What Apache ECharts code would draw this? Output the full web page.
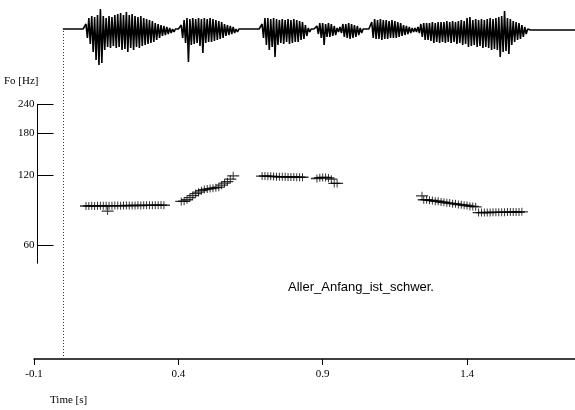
<!DOCTYPE html>
<html>
<head>
<meta charset="utf-8">
<script src="https://cdn.jsdelivr.net/npm/echarts@6/dist/echarts.min.js"></script>
<style>
  html, body { margin: 0; padding: 0; background: #fff; }
  #main { width: 575px; height: 410px; }
</style>
</head>
<body>
<div id="main"></div>
<script>
// time axis
var timeMin = -0.1;
var timeMax = 1.774;
var timeTicks = [-0.1, 0.4, 0.9, 1.4];

// F0 axis (log)
var hzMin = 50.3;
var hzMax = 240;
var hzTicks = [60, 120, 180, 240];

// F0 frames, 10 ms apart, per voiced stretch
var f0Step = 0.01;
var f0Starts = [0.08, 0.41, 0.69, 0.88, 1.25, 1.44];
var f0Seg1 = [88.4, 88.4, 88.5, 88.4, 88.5, 88.5, 88.6, 88.5, 88.6, 88.6, 88.7, 88.7, 88.6, 88.7,
              88.8, 88.7, 88.8, 88.8, 88.9, 88.8, 88.9, 88.9, 89.0, 88.9, 89.0, 89.0, 89.1, 89.0];
var f0Seg2 = [92.4, 92.6, 94.0, 95.9, 97.8, 99.8, 101.2, 102.7, 103.8, 104.3, 104.8, 105.3, 105.8,
              106.3, 108.4, 110.6, 112.2, 115.0, 118.8];
var f0Seg3 = [118.5, 118.6, 118.3, 118.2, 118.0, 117.9, 117.8, 117.7, 117.7, 117.6, 117.5, 117.4,
              117.3, 117.2, 117.1];
var f0Seg4 = [115.8, 116.6, 117.0, 117.0, 116.4, 115.0, 110.3, 110.3];
var f0Seg5 = [94.0, 93.9, 93.4, 93.2, 92.6, 92.5, 91.9, 91.7, 91.1, 90.9, 90.4, 90.2, 89.7, 89.5,
              89.0, 88.8, 88.2, 88.0, 87.6];
var f0Seg6 = [82.8, 82.8, 82.9, 82.9, 82.9, 83.0, 83.0, 83.0, 83.1, 83.1, 83.2, 83.2, 83.2, 83.3,
              83.3, 83.4];
var f0Segs = [f0Seg1, f0Seg2, f0Seg3, f0Seg4, f0Seg5, f0Seg6];
// stray frames off the contour
var f0Extra = [[0.155, 84.0], [1.244, 97.6]];

// oscillogram envelope, 10 ms apart from t = 0 (peak above / trough below zero)
var wfStep = 0.01;
var wfUp = [1, 1, 1, 1, 1, 1, 1, 1,
  6, 12, 14, 13, 15, 21, 14, 12, 14, 13, 15, 16, 17, 15, 18, 15, 16, 14, 13, 14, 12, 11, 10, 9, 7, 6, 5, 4, 3, 2, 1,
  1, 1,
  5, 10, 12, 11, 12, 11, 12, 11, 12, 11, 12, 11, 10, 9, 8, 6, 5, 4, 3, 1,
  1, 1, 1, 1, 1, 1, 1, 1,
  6, 12, 12, 11, 12, 11, 10, 11, 10, 11, 10, 11, 10, 9, 8, 5, 2,
  1, 1,
  4, 7, 7, 6, 7, 6, 4, 2,
  3, 6, 6, 7, 6, 5, 4, 2,
  1, 1, 1,
  8, 11, 10, 11, 10, 10, 9, 10, 9, 8, 7, 5, 4, 3, 2, 2,
  3, 6, 7, 7, 7, 8, 7, 8, 8, 8, 9, 8, 9, 8, 9, 10, 9, 12, 13, 10, 11, 10, 11, 10, 11, 12, 11, 12, 13, 14, 19,
  12, 11, 9, 8, 7, 5, 3, 1];
var wfDown = [1, 1, 1, 1, 1, 1, 1, 1,
  8, 14, 22, 30, 35, 33, 20, 17, 18, 16, 18, 17, 20, 19, 22, 18, 20, 17, 18, 16, 15, 14, 13, 12, 10, 8, 6, 5, 4, 3, 2,
  1, 1,
  8, 13, 32, 15, 14, 13, 16, 23, 13, 12, 12, 11, 10, 9, 8, 6, 5, 4, 3, 2,
  1, 1, 1, 1, 1, 1, 1, 1,
  8, 15, 20, 17, 27, 15, 13, 14, 12, 14, 13, 12, 12, 10, 9, 6, 2,
  1, 1,
  4, 8, 15, 7, 7, 6, 5, 2,
  3, 7, 8, 9, 8, 7, 5, 3,
  1, 1, 1,
  8, 9, 9, 10, 9, 9, 8, 8, 8, 7, 6, 5, 4, 3, 2, 2,
  3, 7, 10, 10, 11, 13, 12, 13, 12, 13, 12, 13, 12, 14, 13, 15, 14, 17, 16, 15, 17, 16, 18, 17, 18, 20, 19, 20, 27,
  22, 21, 24, 15, 12, 10, 9, 7, 4, 1];

var sentence = 'Aller_Anfang_ist_schwer.';

// ---- build series data ----
var f0Data = [];
f0Segs.forEach(function (seg, k) {
    seg.forEach(function (hz, i) {
        f0Data.push([+(f0Starts[k] + i * f0Step).toFixed(3), hz]);
    });
});
f0Extra.forEach(function (p) { f0Data.push(p); });

var wfData = [];
var n = Math.min(wfUp.length, wfDown.length);
for (var i = 0; i < n; i++) {
    var t = i * wfStep;
    wfData.push([t, wfUp[i]]);
    wfData.push([t + wfStep / 2, -wfDown[i]]);
}
wfData.push([n * wfStep, 0]);
wfData.push([timeMax, 0]);

var serif = 'Liberation Serif';
var plus = 'path://M0,3.3L12,3.3L12,4.7L0,4.7ZM5.5,0L6.5,0L6.5,8L5.5,8Z';

var myChart = echarts.init(document.getElementById('main'));
myChart.setOption({
    animation: false,
    backgroundColor: '#fff',
    grid: [
        { left: 34, right: 0, top: 30, bottom: 51 },
        { left: 34, right: 0, top: 104.3, height: 159 },
        { left: 34, right: 0, top: 0, height: 60 }
    ],
    xAxis: [
        {
            type: 'value', gridIndex: 0, min: timeMin, max: timeMax,
            splitLine: { show: false },
            axisLine: { lineStyle: { color: '#000', width: 1.5 } },
            axisTick: { customValues: timeTicks, length: 6, lineStyle: { color: '#000' } },
            axisLabel: {
                customValues: timeTicks, margin: 10,
                color: '#000', fontFamily: serif, fontSize: 11
            }
        },
        { type: 'value', gridIndex: 1, min: timeMin, max: timeMax, show: false },
        { type: 'value', gridIndex: 2, min: timeMin, max: timeMax, show: false }
    ],
    yAxis: [
        { type: 'value', gridIndex: 0, min: 0, max: 1, show: false },
        {
            type: 'log', gridIndex: 1, logBase: 2, min: hzMin, max: hzMax, offset: -3.5,
            splitLine: { show: false },
            axisLine: { show: true, onZero: false, lineStyle: { color: '#000', width: 1 } },
            axisTick: { customValues: hzTicks, inside: true, length: 16, lineStyle: { color: '#000' } },
            axisLabel: {
                customValues: hzTicks, margin: 3,
                color: '#000', fontFamily: serif, fontSize: 11
            }
        },
        { type: 'value', gridIndex: 2, min: -30, max: 30, show: false }
    ],
    graphic: [
        { type: 'text', left: 4, top: 76, style: { text: 'Fo [Hz]', fill: '#000', font: '11px "Liberation Serif"' } },
        { type: 'text', left: 50, top: 395, style: { text: 'Time [s]', fill: '#000', font: '11px "Liberation Serif"' } },
        { type: 'text', left: 288, top: 281, style: { text: sentence, fill: '#000', font: '13px "Liberation Sans Narrow", "Liberation Sans"' } }
    ],
    series: [
        {
            // dotted marker at time zero
            type: 'line', xAxisIndex: 0, yAxisIndex: 0, data: [],
            markLine: {
                silent: true, symbol: 'none', label: { show: false },
                lineStyle: { color: '#333', width: 1, type: [1, 2] },
                data: [{ xAxis: 0 }]
            }
        },
        {
            type: 'scatter', xAxisIndex: 1, yAxisIndex: 1, data: f0Data,
            symbol: plus, symbolSize: [12, 8],
            itemStyle: { color: '#000' }
        },
        {
            type: 'line', xAxisIndex: 2, yAxisIndex: 2, data: wfData,
            showSymbol: false, clip: false,
            lineStyle: { color: '#000', width: 1.6 }
        }
    ]
});
</script>
</body>
</html>
